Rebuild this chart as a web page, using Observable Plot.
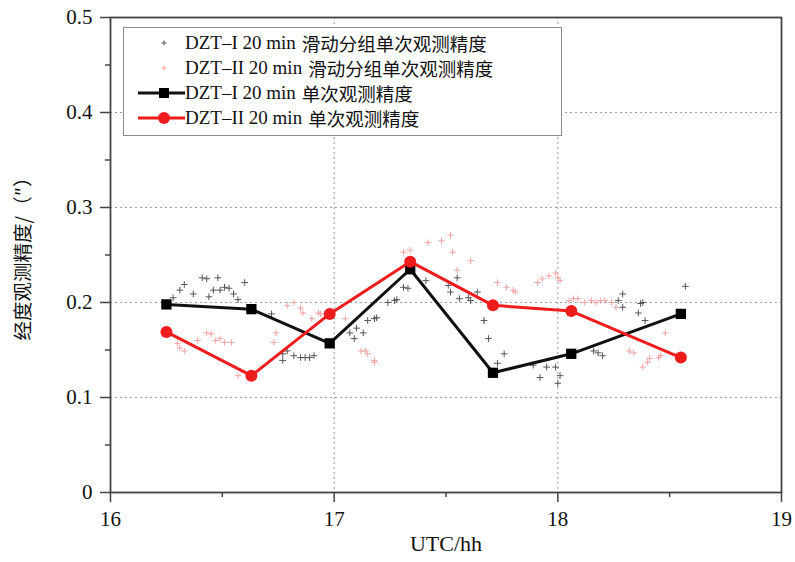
<!DOCTYPE html>
<html>
<head>
<meta charset="utf-8">
<script src="https://cdn.jsdelivr.net/npm/d3@7"></script>
<script src="https://cdn.jsdelivr.net/npm/@observablehq/plot@0.6"></script>
<style>
  html, body { margin: 0; padding: 0; background: #fff; }
  #wrap { position: relative; width: 795px; height: 562px; }
  #legend {
    position: absolute; left: 123px; top: 27px; width: 439px; height: 109px;
    border: 1px solid #8a8a8a; background: #fff; box-sizing: border-box;
    font-family: "Liberation Serif", "Noto Sans CJK SC", serif; font-size: 19px; color: #111;
  }
  .row { position: absolute; left: 0; height: 24px; display: flex; align-items: center; white-space: nowrap; }
  .row span { display: inline-block; height: 20px; line-height: 20px; overflow: visible; }
  .row svg { width: 61px; height: 24px; flex: none; }
  .cjk { font-family: "Noto Sans CJK SC", sans-serif; font-size: 18.5px; margin-left: 6px; }
  #ylab {
    position: absolute; left: 22px; top: 254px; white-space: nowrap; line-height: 22px;
    font-family: "Noto Sans CJK SC", sans-serif; font-size: 19.5px; color: #111;
    transform: translate(-50%, -50%) rotate(-90deg);
  }
</style>
</head>
<body>
<div id="wrap"></div>
<script>
// Sliding-group single observation precision (DZT-I), hours vs arcsec
const slideIHour = [16.28,16.31,16.33,16.37,16.41,16.43,16.48,16.44,16.46,16.49,16.51,16.53,16.55,16.57,16.60,
  16.72,16.77,16.77,16.79,16.82,16.85,16.87,16.89,16.91,17.07,17.09,17.10,17.13,17.15,17.18,17.19,17.24,17.27,17.28,
  17.31,17.33,17.41,17.51,17.52,17.55,17.56,17.60,17.61,17.64,17.67,17.69,17.76,17.73,17.89,17.92,17.95,17.99,18.00,
  18.01,18.16,18.18,18.20,18.29,18.27,18.29,18.36,18.37,18.38,18.39,18.57];
const slideIVal = [0.205,0.213,0.219,0.209,0.226,0.225,0.226,0.206,0.213,0.213,0.216,0.215,0.209,0.203,0.221,
  0.188,0.146,0.139,0.149,0.144,0.142,0.142,0.142,0.144,0.168,0.162,0.173,0.168,0.181,0.183,0.184,0.200,0.202,0.203,
  0.216,0.215,0.223,0.218,0.211,0.226,0.204,0.205,0.202,0.211,0.181,0.162,0.146,0.136,0.134,0.121,0.132,0.132,0.115,
  0.123,0.149,0.147,0.144,0.209,0.202,0.195,0.189,0.199,0.200,0.181,0.217];
// Sliding-group single observation precision (DZT-II)
const slideIIHour = [16.30,16.31,16.33,16.39,16.43,16.45,16.47,16.49,16.51,16.54,16.57,16.73,16.74,16.79,16.82,
  16.85,16.86,16.90,16.93,16.94,17.05,17.12,17.14,17.15,17.18,17.18,17.31,17.34,17.42,17.48,17.52,17.53,17.55,17.61,
  17.73,17.77,17.80,17.81,17.67,17.91,17.93,17.96,17.99,18.00,18.01,18.05,18.07,18.09,18.12,18.15,18.17,18.19,18.21,
  18.24,18.26,18.32,18.34,18.38,18.40,18.41,18.45,18.46,18.48];
const slideIIVal = [0.157,0.152,0.149,0.160,0.168,0.167,0.160,0.162,0.158,0.158,0.123,0.158,0.168,0.197,0.200,
  0.194,0.189,0.183,0.189,0.188,0.183,0.149,0.149,0.146,0.137,0.139,0.253,0.255,0.263,0.265,0.271,0.253,0.234,0.244,
  0.221,0.216,0.213,0.211,0.181,0.221,0.225,0.228,0.231,0.226,0.223,0.202,0.204,0.204,0.200,0.202,0.200,0.202,0.202,
  0.200,0.195,0.149,0.147,0.132,0.137,0.141,0.142,0.144,0.168];
// 20 min single observation precision
const groupHour = [16.25,16.63,16.98,17.34,17.71,18.06,18.55];
const dztI  = [0.198,0.193,0.157,0.235,0.126,0.146,0.188];
const dztII = [0.169,0.123,0.188,0.243,0.197,0.191,0.142];

const xMajor = [16,17,18,19];
const xMinor = [16.5,17.5,18.5];
const yMajor = [0,0.1,0.2,0.3,0.4,0.5];
const yMinor = [0.05,0.15,0.25,0.35,0.45];
const yGrid = [0.1,0.2,0.3,0.4];
const xGrid = [17,18];
const xLabel = "UTC/hh";
const yLabel = "经度观测精度/（″）";

const slideI = slideIHour.map((h,i) => ({h, v: slideIVal[i]}));
const slideII = slideIIHour.map((h,i) => ({h, v: slideIIVal[i]}));
const groups = groupHour.map((h,i) => ({h, a: dztI[i], b: dztII[i]}));

const chart = Plot.plot({
  width: 795, height: 562,
  marginLeft: 110, marginRight: 14, marginTop: 17, marginBottom: 70,
  style: {fontFamily: "'Liberation Serif', serif", fontSize: "21px", color: "#111", background: "#fff", overflow: "visible"},
  x: {domain: [16,19], axis: null},
  y: {domain: [0,0.5], axis: null},
  marks: [
    Plot.gridY(yGrid, {stroke: "#9a9a9a", strokeOpacity: 1, strokeDasharray: "2,3"}),
    Plot.gridX(xGrid, {stroke: "#9a9a9a", strokeOpacity: 1, strokeDasharray: "2,3"}),
    Plot.dot(slideII, {x: "h", y: "v", symbol: "plus", r: 2.2, stroke: "#f2a2a2", strokeWidth: 1}),
    Plot.dot(slideI, {x: "h", y: "v", symbol: "plus", r: 2.3, stroke: "#555", strokeWidth: 1}),
    Plot.line(groups, {x: "h", y: "a", stroke: "#111", strokeWidth: 3}),
    Plot.dot(groups, {x: "h", y: "a", symbol: "square", r: 5.8, fill: "#000", stroke: "none"}),
    Plot.line(groups, {x: "h", y: "b", stroke: "#ee1c1c", strokeWidth: 3}),
    Plot.dot(groups, {x: "h", y: "b", r: 6, fill: "#ee1c1c", stroke: "none"}),
    Plot.frame({stroke: "#444", strokeWidth: 1.8}),
    Plot.axisX({ticks: xMajor, tickSize: 10, tickPadding: 9, tickFormat: d => String(d), label: null, stroke: "#444", strokeWidth: 1.5, fontSize: 21}),
    Plot.axisX({ticks: xMinor, tickSize: 5, tickFormat: () => "", label: null, stroke: "#444", strokeWidth: 1.5}),
    Plot.axisY({ticks: yMajor, tickSize: 10, text: null, label: null, stroke: "#444", strokeWidth: 1.5}),
    Plot.axisY({ticks: yMajor, tickSize: 0, tickPadding: 0, dx: -18, tickFormat: d => d === 0 ? "0" : d.toFixed(1), label: null, fontSize: 21}),
    Plot.axisY({ticks: yMinor, tickSize: 5, tickFormat: () => "", label: null, stroke: "#444", strokeWidth: 1.5}),
    Plot.text([xLabel], {frameAnchor: "bottom", dy: 58, text: d => d, fontSize: 22})
  ]
});

const wrap = document.getElementById("wrap");
wrap.appendChild(chart);

const yl = document.createElement("div");
yl.id = "ylab";
yl.textContent = yLabel;
wrap.appendChild(yl);

const legendItems = [
  {label: "DZT–I 20 min", cjk: "滑动分组单次观测精度", kind: "plusI"},
  {label: "DZT–II 20 min", cjk: "滑动分组单次观测精度", kind: "plusII"},
  {label: "DZT–I 20 min", cjk: "单次观测精度", kind: "lineI"},
  {label: "DZT–II 20 min", cjk: "单次观测精度", kind: "lineII"}
];
const legendTops = [3, 28, 53, 78];
const leg = document.createElement("div");
leg.id = "legend";
legendItems.forEach((it, i) => {
  const row = document.createElement("div");
  row.className = "row";
  row.style.top = legendTops[i] + "px";
  let sym = "";
  if (it.kind === "plusI") sym = '<path d="M37.5,12h5M40,9.5v5" stroke="#555" stroke-width="1"/>';
  if (it.kind === "plusII") sym = '<path d="M37.5,12h5M40,9.5v5" stroke="#f2a2a2" stroke-width="1"/>';
  if (it.kind === "lineI") sym = '<line x1="14" x2="61" y1="12" y2="12" stroke="#111" stroke-width="3"/><rect x="35" y="7" width="10" height="10" fill="#000"/>';
  if (it.kind === "lineII") sym = '<line x1="14" x2="61" y1="12" y2="12" stroke="#ee1c1c" stroke-width="3"/><circle cx="40" cy="12" r="6" fill="#ee1c1c"/>';
  row.innerHTML = '<svg viewBox="0 0 61 24">' + sym + '</svg><span>' + it.label + '</span><span class="cjk">' + it.cjk + '</span>';
  leg.appendChild(row);
});
wrap.appendChild(leg);
</script>
</body>
</html>
